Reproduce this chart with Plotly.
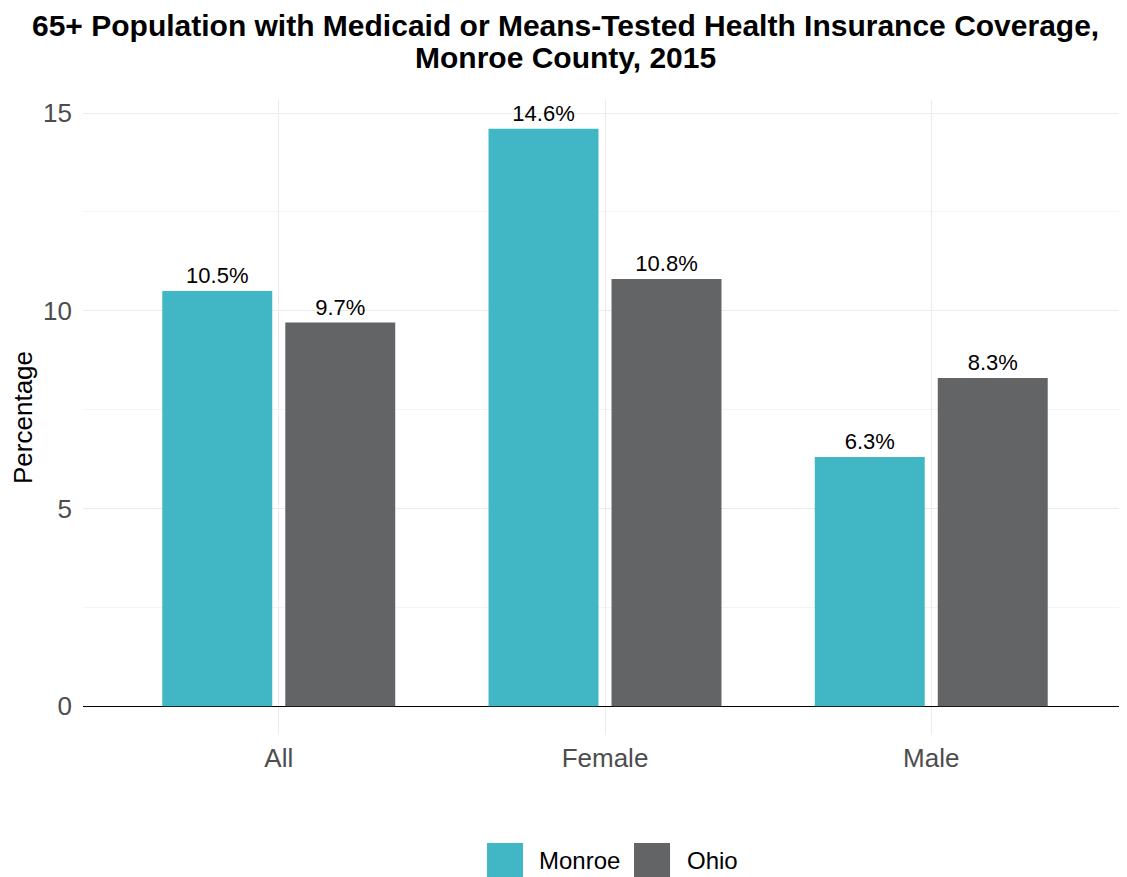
import plotly.graph_objects as go

categories = ["All", "Female", "Male"]
monroe = [10.5, 14.6, 6.3]
ohio = [9.7, 10.8, 8.3]
series_names = ["Monroe", "Ohio"]
colors = ["#41B6C4", "#636466"]
title_lines = ["65+ Population with Medicaid or Means-Tested Health Insurance Coverage,",
               "Monroe County, 2015"]

FONT = "Liberation Sans, Arial, sans-serif"

fig = go.Figure()
for name, vals, col in zip(series_names, [monroe, ohio], colors):
    fig.add_trace(go.Bar(
        x=categories, y=vals, name=name, marker_color=col,
        marker_line_width=0,
        texttemplate="%{y:.1f}%", textposition="outside",
        textfont=dict(size=22, color="black", family=FONT),
        cliponaxis=False, showlegend=False,
    ))

# page is rendered with an 8px body margin; figure sized to compensate
W, H = 1119, 869
L, T, B = 75, 92, 142

annotations = []
for txt, yy in zip(title_lines, [1.117, 1.067]):
    annotations.append(dict(
        text="<b>%s</b>" % txt, x=0.4626, y=yy, xref="paper", yref="paper",
        xanchor="center", yanchor="middle", showarrow=False,
        font=dict(size=30, color="black", family=FONT),
    ))

# custom legend
shapes = []
leg_sq = [(0.387, 0.4215), (0.5278, 0.5623)]
leg_tx = [0.4349, 0.5766]
for name, col, (x0, x1), tx in zip(series_names, colors, leg_sq, leg_tx):
    shapes.append(dict(type="rect", xref="paper", yref="paper",
                       x0=x0, x1=x1, y0=-0.226, y1=-0.170,
                       fillcolor=col, line=dict(width=0)))
    annotations.append(dict(
        text=name, x=tx, y=-0.197, xref="paper", yref="paper",
        xanchor="left", yanchor="middle", showarrow=False,
        font=dict(size=24, color="black", family=FONT),
    ))

fig.update_layout(
    width=W, height=H,
    paper_bgcolor="white", plot_bgcolor="white",
    font=dict(family=FONT),
    margin=dict(l=L, r=0, t=T, b=B),
    barmode="group", bargap=0.246, bargroupgap=0.106,
    annotations=annotations, shapes=shapes,
    showlegend=False,
)
fig.update_xaxes(
    showgrid=True, gridcolor="#EBEBEB", gridwidth=1,
    tickfont=dict(size=26, color="#4D4D4D"), ticks="", showline=False,
    range=[-0.6, 2.6], ticklabelstandoff=5,
)
fig.update_yaxes(
    range=[-0.73, 15.33], tickvals=[0, 5, 10, 15],
    showgrid=True, gridcolor="#EBEBEB", gridwidth=1,
    minor=dict(tickvals=[2.5, 7.5, 12.5], showgrid=True, gridcolor="#F4F4F4", gridwidth=1),
    zeroline=True, zerolinecolor="black", zerolinewidth=1.3,
    tickfont=dict(size=26, color="#4D4D4D"), ticks="", ticklabelstandoff=10,
    title=dict(text="Percentage", font=dict(size=26, color="black"), standoff=14),
)

fig.write_html("out.html")
